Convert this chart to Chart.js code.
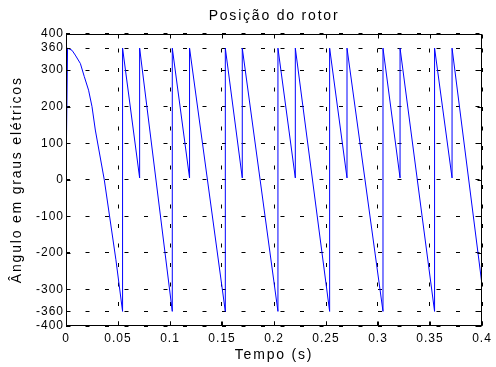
<!DOCTYPE html>
<html>
<head>
<meta charset="utf-8">
<title>Posição do rotor</title>
<script src="https://cdn.jsdelivr.net/npm/chart.js@4.4.1/dist/chart.umd.min.js"></script>
<style>
  html, body { margin: 0; padding: 0; background: #fff; }
  #wrap { width: 496px; height: 367px; }
</style>
</head>
<body>
<div id="wrap"><canvas id="c" width="496" height="367"></canvas></div>
<script>
// Rotor angle (electrical degrees) against time (s)
const tempo = [
  0, 0.0015, 0.0058, 0.0089, 0.0138, 0.0176, 0.0217, 0.0250, 0.0282, 0.0368, 0.0480, 0.0544,
  0.0544, 0.0708, 0.0708, 0.1022, 0.1022, 0.1188, 0.1188, 0.1532, 0.1532, 0.1695, 0.1695,
  0.2038, 0.2038, 0.2205, 0.2205, 0.2535, 0.2535, 0.2702, 0.2702, 0.3048, 0.3048, 0.3212,
  0.3212, 0.3544, 0.3544, 0.3712, 0.3712, 0.4000
];
const angulo = [
  0, 360, 354, 341, 318, 282, 245, 200, 136, 0, -219, -360,
  360, 5, 360, -360, 360, 5, 360, -360, 360, 5, 360,
  -360, 360, 5, 360, -360, 360, 5, 360, -360, 360, 5,
  360, -360, 360, 5, 360, -287
];

// Axis ticks
const xTicks = [0, 0.05, 0.1, 0.15, 0.2, 0.25, 0.3, 0.35, 0.4];
const xTickLabels = ['0', '0.05', '0.1', '0.15', '0.2', '0.25', '0.3', '0.35', '0.4'];
const yTicks = [-400, -360, -300, -200, -100, 0, 100, 200, 300, 360, 400];
const yTickLabels = ['-400', '-360', '-300', '-200', '-100', '0', '100', '200', '300', '360', '400'];

const FONT = 'Liberation Sans, Arial, sans-serif';
const TITLE_SPACING = '1.8px';
const TICK_SPACING = '1px';

const points = tempo.map((t, i) => ({ x: t, y: angulo[i] }));

// Wider letter spacing: titles are drawn before the datasets, tick labels after
const textSpacing = {
  id: 'textSpacing',
  beforeDraw(chart) { chart.ctx.letterSpacing = TITLE_SPACING; },
  beforeDatasetsDraw(chart) { chart.ctx.letterSpacing = TICK_SPACING; },
  afterDraw(chart) { chart.ctx.letterSpacing = '0px'; }
};

// Solid frame around the plot area with inward tick marks on all four sides
const axesBox = {
  id: 'axesBox',
  afterDraw(chart) {
    const { ctx, chartArea: a, scales } = chart;
    const L = Math.round(a.left) + 0.5, R = Math.round(a.right) - 0.5;
    const T = Math.round(a.top) + 0.5, B = Math.round(a.bottom) - 0.5;
    const len = 4;
    ctx.save();
    ctx.strokeStyle = '#000';
    ctx.lineWidth = 1;
    ctx.setLineDash([]);
    ctx.strokeRect(L, T, R - L, B - T);
    ctx.beginPath();
    xTicks.forEach(v => {
      const px = Math.round(scales.x.getPixelForValue(v)) + 0.5;
      ctx.moveTo(px, B); ctx.lineTo(px, B - len);
      ctx.moveTo(px, T); ctx.lineTo(px, T + len);
    });
    yTicks.forEach(v => {
      const py = Math.round(scales.y.getPixelForValue(v)) + 0.5;
      ctx.moveTo(L, py); ctx.lineTo(L + len, py);
      ctx.moveTo(R, py); ctx.lineTo(R - len, py);
    });
    ctx.stroke();
    ctx.restore();
  }
};

new Chart(document.getElementById('c'), {
  type: 'line',
  data: {
    datasets: [{
      data: points,
      borderColor: '#0000ff',
      borderWidth: 1,
      pointRadius: 0,
      tension: 0,
      fill: false,
      xAxisID: 'x',
      yAxisID: 'y'
    }]
  },
  options: {
    responsive: false,
    animation: false,
    events: [],
    layout: { padding: { left: 0, right: 14, top: 0, bottom: 0 } },
    plugins: {
      legend: { display: false },
      tooltip: { enabled: false },
      title: { display: false }
    },
    scales: {
      // top axis only carries the chart title, centred over the plot area
      top: {
        type: 'linear',
        position: 'top',
        min: 0,
        max: 1,
        afterBuildTicks: s => { s.ticks = []; },
        afterFit: s => { s.height = 33.5; },
        ticks: { display: false },
        grid: { display: false },
        border: { display: false },
        title: {
          display: true,
          text: 'Posição do rotor',
          color: '#000',
          font: { family: FONT, size: 14 },
          padding: { top: 7.6, bottom: 0 }
        }
      },
      x: {
        type: 'linear',
        position: 'bottom',
        min: 0,
        max: 0.4,
        afterBuildTicks: s => { s.ticks = xTicks.map(v => ({ value: v })); },
        afterFit: s => { s.height = 41; },
        ticks: {
          z: 1,
          color: '#000',
          font: { family: FONT, size: 12 },
          padding: 5,
          maxRotation: 0,
          autoSkip: false,
          callback: (v) => xTickLabels[xTicks.indexOf(v)]
        },
        grid: { color: '#000', lineWidth: 1, drawTicks: false, z: -1 },
        border: { display: false, dash: [4, 15.5], dashOffset: 4.5 },
        title: {
          display: true,
          text: 'Tempo (s)',
          color: '#000',
          font: { family: FONT, size: 14 },
          padding: { top: 0, bottom: 3.6 }
        }
      },
      y: {
        type: 'linear',
        min: -400,
        max: 400,
        afterBuildTicks: s => { s.ticks = yTicks.map(v => ({ value: v })); },
        afterFit: s => { s.width = 66; },
        ticks: {
          z: 1,
          color: '#000',
          font: { family: FONT, size: 12 },
          padding: 2,
          autoSkip: false,
          callback: (v) => yTickLabels[yTicks.indexOf(v)]
        },
        grid: { color: '#000', lineWidth: 1, drawTicks: false, z: -1 },
        border: { display: false, dash: [4, 15.5], dashOffset: 0 },
        title: {
          display: true,
          text: 'Ângulo em graus elétricos',
          color: '#000',
          font: { family: FONT, size: 14 },
          padding: { top: 9, bottom: 0 }
        }
      }
    }
  },
  plugins: [textSpacing, axesBox]
});
</script>
</body>
</html>
